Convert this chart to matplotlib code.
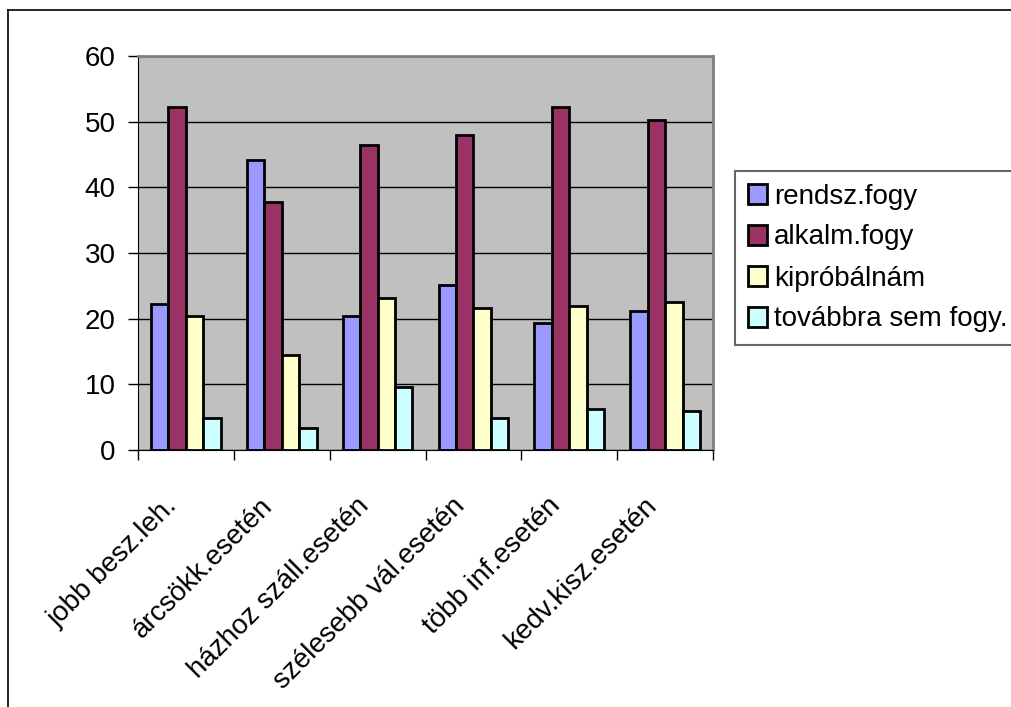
import numpy as np
import matplotlib
matplotlib.use("Agg")
import matplotlib.pyplot as plt
from matplotlib.lines import Line2D
from matplotlib.transforms import ScaledTranslation

plt.rcParams['font.family'] = ['Liberation Sans', 'DejaVu Sans']

# Categories and series values
categories = ["jobb besz.leh.", "árcsökk.esetén", "házhoz száll.esetén",
              "szélesebb vál.esetén", "több inf.esetén", "kedv.kisz.esetén"]
series_names = ["rendsz.fogy", "alkalm.fogy", "kipróbálnám", "továbbra sem fogy."]
rendsz = [22.2, 44.1, 20.4, 25.2, 19.3, 21.1]
alkalm = [52.2, 37.8, 46.4, 48.0, 52.2, 50.2]
kiprob = [20.4, 14.4, 23.2, 21.6, 22.0, 22.5]
tovabb = [4.8, 3.4, 9.6, 4.8, 6.2, 5.9]
colors = ["#9999FF", "#993366", "#FFFFCC", "#CCFFFF"]

W, H = 1012, 707
fig = plt.figure(figsize=(W / 100, H / 100), dpi=100)
ax = fig.add_axes([138 / W, 1 - 450 / H, 575 / W, 394 / H])
ax.set_facecolor("#C0C0C0")

x = np.arange(len(categories))
bw = 1 / 5.5
for i, (vals, name, c) in enumerate(zip([rendsz, alkalm, kiprob, tovabb], series_names, colors)):
    ax.bar(x - 1.5 * bw + i * bw + 0.5, vals, width=bw, color=c, edgecolor="black",
           linewidth=2, label=name, zorder=3)

ax.set_xlim(0, len(categories))
ax.set_ylim(0, 60)
ax.set_yticks(range(0, 61, 10))
ax.yaxis.grid(True, color="black", linewidth=1, zorder=1)
ax.set_axisbelow(True)

# Boundary ticks as major, labels at category centers as minor
ax.set_xticks(range(len(categories) + 1))
ax.set_xticklabels([])
ax.set_xticks(x + 0.5, minor=True)
ax.set_xticklabels(categories, minor=True, rotation=45, ha="right", va="top",
                   rotation_mode="anchor", fontsize=20)
ax.tick_params(axis="x", which="minor", length=0, pad=12)
ax.tick_params(axis="x", which="major", length=7, width=1, direction="out")
ax.tick_params(axis="y", length=7, width=1, labelsize=20, pad=9)
shift = ScaledTranslation(-0.22, -0.26, fig.dpi_scale_trans)
for lbl in ax.get_xticklabels(minor=True):
    lbl.set_transform(lbl.get_transform() + shift)

for s in ["top", "right"]:
    ax.spines[s].set_color("#808080")
    ax.spines[s].set_linewidth(2)
ax.spines["left"].set_color("black")
ax.spines["bottom"].set_color("black")

leg = ax.legend(loc="upper left", bbox_to_anchor=(735 / W, 1 - 171 / H),
                bbox_transform=fig.transFigure, borderaxespad=0, fontsize=20,
                frameon=True, fancybox=False, edgecolor="#404040",
                handlelength=0.7, handleheight=0.7, handletextpad=0.25,
                borderpad=0.45, labelspacing=0.54)
leg.get_frame().set_linewidth(1.5)
for p in leg.get_patches():
    p.set_linewidth(2)

# Outer frame around the chart
fig.add_artist(Line2D([8 / W, 8 / W], [0, 1 - 10 / H], color="black", linewidth=1.2,
                      transform=fig.transFigure))
fig.add_artist(Line2D([8 / W, 1], [1 - 10 / H, 1 - 10 / H], color="black", linewidth=1.2,
                      transform=fig.transFigure))

fig.savefig("out.png", dpi=100)
